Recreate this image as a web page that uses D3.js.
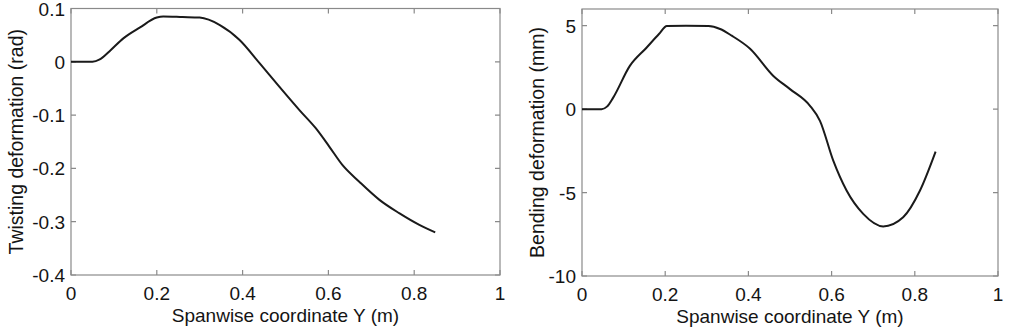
<!DOCTYPE html>
<html>
<head>
<meta charset="utf-8">
<script src="https://cdn.jsdelivr.net/npm/d3@7"></script>
<style>
  body { margin: 0; background: #fff; }
  svg text { font-family: "Liberation Sans", Arial, sans-serif; fill: #141414; }
</style>
</head>
<body>
<svg id="chart" width="1011" height="328"></svg>
<script>
// spanwise coordinate (m) and the two deformations
var twistY = [0, 0.05, 0.067, 0.09, 0.122, 0.16, 0.2, 0.215, 0.26, 0.3, 0.347, 0.393, 0.44, 0.486, 0.533, 0.571, 0.602, 0.633, 0.672, 0.719, 0.765, 0.812, 0.849];
var twist  = [0, 0, 0.0044, 0.02, 0.044, 0.064, 0.083, 0.085, 0.084, 0.083, 0.069, 0.041, -0.003, -0.047, -0.091, -0.125, -0.159, -0.194, -0.225, -0.259, -0.284, -0.306, -0.32];

var bendY = [0, 0.047, 0.06, 0.075, 0.115, 0.155, 0.185, 0.204, 0.25, 0.304, 0.332, 0.36, 0.404, 0.46, 0.5, 0.548, 0.572, 0.604, 0.636, 0.676, 0.724, 0.772, 0.8125, 0.85];
var bend  = [0, 0, 0.15, 0.69, 2.59, 3.68, 4.5, 4.98, 5, 4.98, 4.8, 4.4, 3.62, 1.99, 1.2, 0.2, -0.7, -3.09, -4.88, -6.28, -7.03, -6.48, -4.88, -2.55];

var xTicks = [0, 0.2, 0.4, 0.6, 0.8, 1];
var twistTicks = [-0.4, -0.3, -0.2, -0.1, 0, 0.1];
var bendTicks = [-10, -5, 0, 5];

var svg = d3.select("#chart");

function drawPanel(opt) {
    var x = d3.scaleLinear().domain([0, 1]).range([opt.left, opt.right]);
    var y = d3.scaleLinear().domain(opt.yDomain).range([opt.bottom, opt.top]);
    var g = svg.append("g");

    // box
    g.append("rect")
        .attr("x", opt.left).attr("y", opt.top)
        .attr("width", opt.right - opt.left).attr("height", opt.bottom - opt.top)
        .attr("fill", "none").attr("stroke", "#8a8a8a").attr("stroke-width", 1.2);

    // inward ticks on all four sides
    var tl = 5;
    g.selectAll(".xt").data(xTicks).enter().append("path")
        .attr("d", d => "M" + x(d) + "," + opt.bottom + "v" + (-tl) + "M" + x(d) + "," + opt.top + "v" + tl)
        .attr("stroke", "#8a8a8a").attr("stroke-width", 1.2);
    g.selectAll(".yt").data(opt.yTicks).enter().append("path")
        .attr("d", d => "M" + opt.left + "," + y(d) + "h" + tl + "M" + opt.right + "," + y(d) + "h" + (-tl))
        .attr("stroke", "#8a8a8a").attr("stroke-width", 1.2);

    // tick labels (plain hyphen minus like the original)
    g.selectAll(".xl").data(xTicks).enter().append("text")
        .attr("x", d => x(d)).attr("y", opt.bottom + 25)
        .attr("text-anchor", "middle").attr("font-size", 19)
        .text(d => String(d));
    g.selectAll(".yl").data(opt.yTicks).enter().append("text")
        .attr("x", opt.left - 6).attr("y", d => y(d) + 7)
        .attr("text-anchor", "end").attr("font-size", 19)
        .text(d => String(d));

    // axis titles
    g.append("text")
        .attr("x", (opt.left + opt.right) / 2).attr("y", opt.bottom + 47)
        .attr("text-anchor", "middle").attr("font-size", 19)
        .text("Spanwise coordinate Y (m)");
    g.append("text")
        .attr("transform", "translate(" + opt.yLabelX + "," + ((opt.top + opt.bottom) / 2) + ") rotate(-90)")
        .attr("text-anchor", "middle").attr("font-size", 19.5)
        .text(opt.yLabel);

    // curve
    var line = d3.line()
        .x((d, i) => x(opt.xs[i]))
        .y(d => y(d))
        .curve(d3.curveMonotoneX);
    g.append("path")
        .datum(opt.ys)
        .attr("d", line)
        .attr("fill", "none").attr("stroke", "#1a1a1a").attr("stroke-width", 2);
}

drawPanel({
    left: 71, right: 500, top: 8.5, bottom: 275,
    yDomain: [-0.4, 0.1], yTicks: twistTicks,
    xs: twistY, ys: twist,
    yLabel: "Twisting deformation (rad)", yLabelX: 23
});

drawPanel({
    left: 582, right: 998, top: 9, bottom: 276,
    yDomain: [-10, 6], yTicks: bendTicks,
    xs: bendY, ys: bend,
    yLabel: "Bending deformation (mm)", yLabelX: 544
});
</script>
</body>
</html>
